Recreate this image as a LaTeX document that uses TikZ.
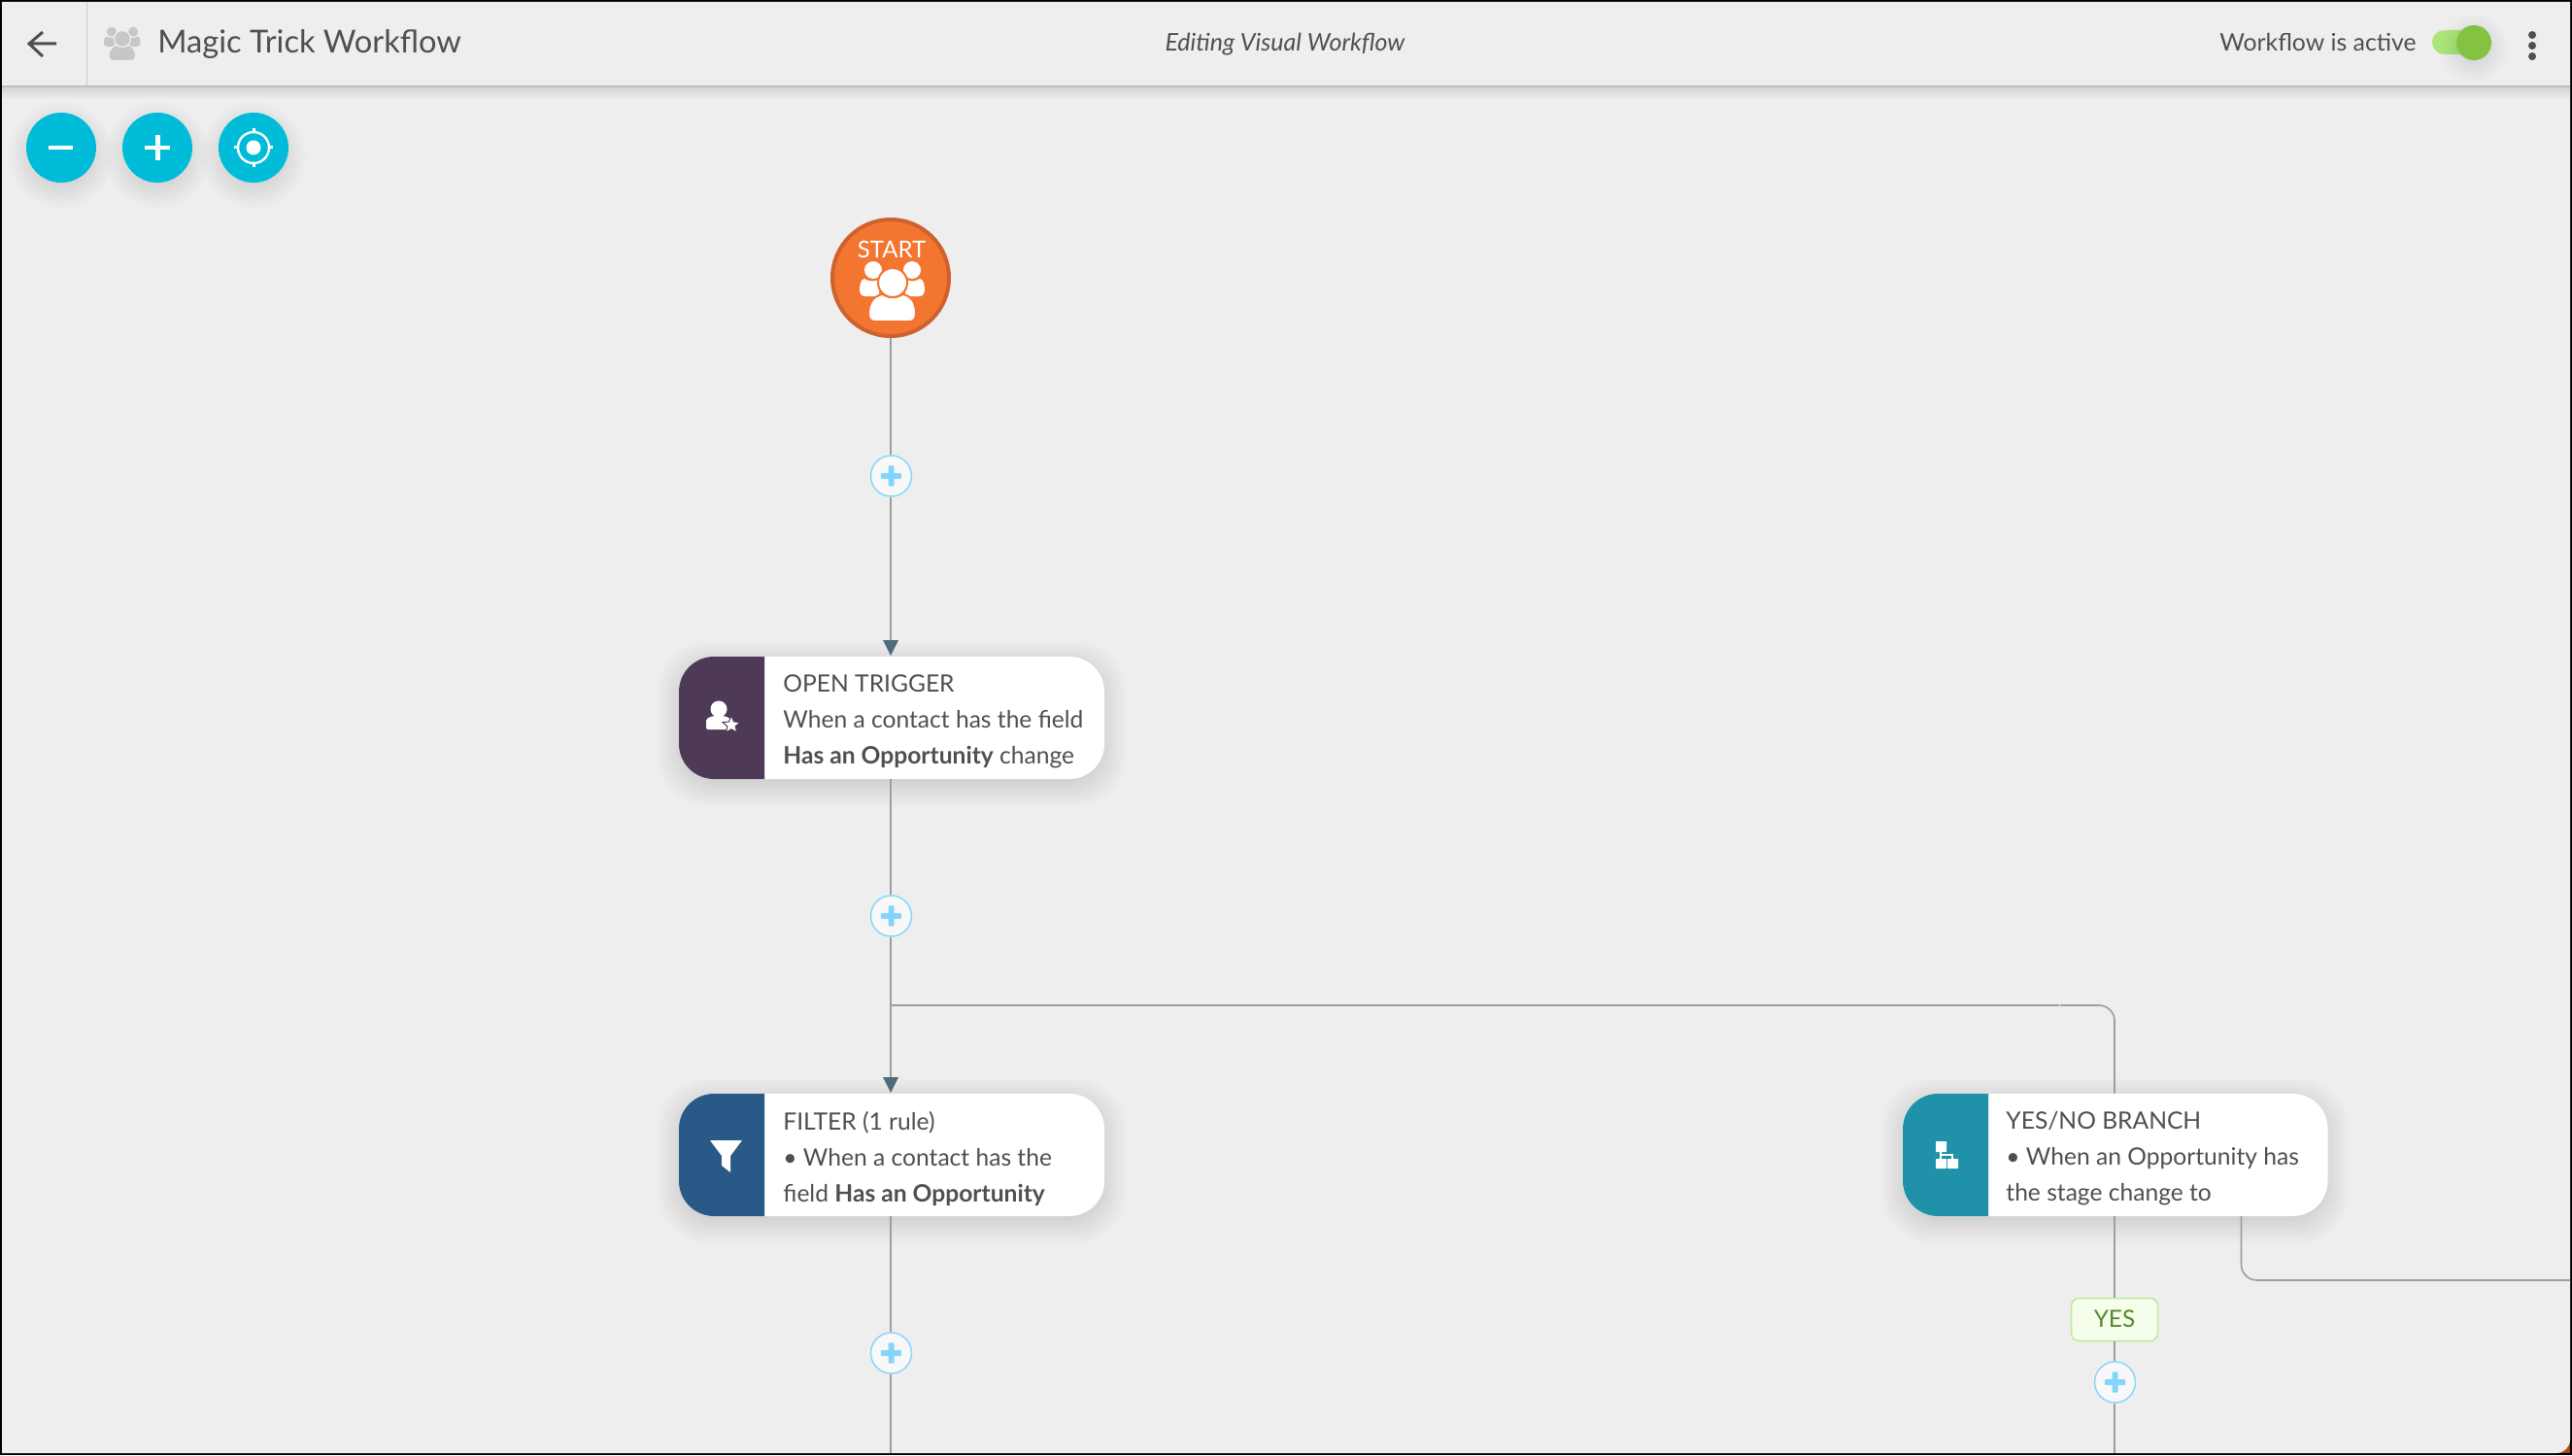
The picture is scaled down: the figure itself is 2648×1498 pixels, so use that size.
\documentclass[tikz,border=0pt]{standalone}
\usepackage{fontspec}
\setmainfont{Lato}
\definecolor{pagebg}{HTML}{EEEEEE}
\definecolor{ink}{HTML}{4F4F4F}
\definecolor{wire}{HTML}{9E9E9E}
\definecolor{zoomc}{HTML}{00BCD8}
\definecolor{plusc}{HTML}{84D5FB}
\definecolor{headc}{HTML}{4E6B7C}
\definecolor{startf}{HTML}{F27530}
\definecolor{startb}{HTML}{CE612F}
\definecolor{trigc}{HTML}{4E3A57}
\definecolor{filtc}{HTML}{285987}
\definecolor{branc}{HTML}{1F91A9}
\definecolor{yesf}{HTML}{F4FEEB}
\definecolor{yesb}{HTML}{BCEB96}
\definecolor{yest}{HTML}{558B2F}
\definecolor{trackc}{HTML}{AEE57A}
\definecolor{knobc}{HTML}{83C341}
\definecolor{cornerc}{HTML}{A8481A}
\definecolor{sepc}{HTML}{CDCDCD}
\tikzset{
  wireline/.style={draw=wire,line width=0.8pt},
  addnode/.style={circle,draw=plusc,fill=white!60!pagebg,line width=0.7pt,minimum size=21pt,inner sep=0pt,
    path picture={\fill[plusc,rounded corners=0.5pt] ([xshift=-5.3pt,yshift=-1.5pt]path picture bounding box.center) rectangle ([xshift=5.3pt,yshift=1.5pt]path picture bounding box.center);
      \fill[plusc,rounded corners=0.5pt] ([xshift=-1.5pt,yshift=-5.3pt]path picture bounding box.center) rectangle ([xshift=1.5pt,yshift=5.3pt]path picture bounding box.center);}},
  cardbox/.style={rectangle,rounded corners=18pt,fill=white,minimum width=219pt,minimum height=63pt,inner sep=0pt},
  cardtext/.style={anchor=north west,align=left,inner sep=0pt,text=ink,font=\fontsize{12.3}{18.6}\selectfont},
  zoombtn/.style={circle,fill=zoomc,minimum size=36pt,inner sep=0pt},
}
\newcommand{\softcircle}[3]{\foreach \k in {1,...,12}{\fill[black,opacity=0.009] (#1,#2+8) circle ({#3-8+\k*2.2});}}
\newcommand{\softcard}[4]{\foreach \k in {1,...,14}{\fill[black,opacity=0.006,rounded corners={18pt+\k*0.5pt}] (#1+6-\k*2,#2+12-\k*2) rectangle (#3-6+\k*2,#4+\k*2);}}
\newcommand{\crowd}[5]{%
\begin{scope}[shift={(#1,#2)},scale=#3]
  \fill[#4] (-34,-3) .. controls (-33,-12) and (-31,-13) .. (-29,-13) .. controls (-25,-10) and (-19,-10) .. (-14,-12) -- (-14,5) -- (-28,5) .. controls (-32,5) and (-34,3) .. (-34,-3) -- cycle;
  \fill[#4] (33,-3) .. controls (32,-12) and (30,-13) .. (28,-13) .. controls (24,-10) and (18,-10) .. (13,-12) -- (13,5) -- (27,5) .. controls (31,5) and (33,3) .. (33,-3) -- cycle;
  \fill[#4] (-20,-22) circle (9);
  \fill[#4] (20,-22) circle (9);
  \fill[#4,draw=#5,line width=#3*1pt] (-18,31) .. controls (-23,31) and (-25,28) .. (-25,23) .. controls (-25,10) and (-18,4) .. (-10,3) .. controls (-5,7) and (5,7) .. (10,3) .. controls (18,4) and (24,10) .. (24,23) .. controls (24,28) and (22,31) .. (17,31) -- cycle;
  \fill[#4,draw=#5,line width=#3*1pt] (0,-9) circle (15);
\end{scope}}
\begin{document}
\begin{tikzpicture}[x=0.5pt,y=-0.5pt]
\useasboundingbox (0,0) rectangle (2648,1498);
\fill[black] (0,0) rectangle (2648,1498);
\fill[cornerc] (2626,1476) rectangle (2646,1496);
\fill[pagebg] (2,2) -- (2646,2) [rounded corners=7pt] -- (2646,1496) [sharp corners] -- (2,1496) -- cycle;
% header shadow
\foreach \k in {1,...,10}{\fill[black,opacity=0.012] (2,88) rectangle (2646,88+\k*1.4);}
\fill[black,opacity=0.09] (2,88) rectangle (2646,90);
\draw[sepc,line width=0.5pt] (89,2) -- (89,88);
\draw[ink,line width=1.5pt] (44,33) -- (30,45) -- (44,58) (30,45) -- (58,45);
\crowd{126}{45}{0.56}{black!22}{pagebg}
\node[anchor=base west,inner sep=0pt,text=ink,font=\fontsize{16.3}{20}\selectfont] (title) at (162,54.5) {Magic Trick Workflow};
\node[anchor=base,inner sep=0pt,text=ink,font=\fontsize{12.5}{15}\selectfont\itshape] (mode) at (1323,52.5) {Editing Visual Workflow};
\node[anchor=base east,inner sep=0pt,text=ink,font=\fontsize{12.4}{15}\selectfont] (active) at (2488,53) {Workflow is active};
\fill[trackc,rounded corners=6.25pt] (2504,31) rectangle (2560,56);
\softcircle{2547}{42}{17}
\fill[knobc] (2547,44) circle (18);
\foreach \yy in {36,47,58}{\fill[ink] (2607,\yy) circle (4);}
% zoom buttons
\softcircle{63}{152}{36}\softcircle{162}{152}{36}\softcircle{261}{152}{36}
\node[zoombtn] (zoomout) at (63,152) {};
\node[zoombtn] (zoomin) at (162,152) {};
\node[zoombtn] (recenter) at (261,152) {};
\fill[white] (50,150) rectangle (75,154.5);
\fill[white] (149,150) rectangle (175,154.5);
\fill[white] (160,139) rectangle (164.5,165);
\draw[white,line width=1.2pt] (261,152) circle (16);
\fill[white] (261,152) circle (7.5);
\draw[white,line width=1.5pt] (261,132) -- (261,137) (261,167) -- (261,172) (241,152) -- (246,152) (276,152) -- (281,152);
% card shadows
\softcard{699}{676}{1137}{802}
\softcard{699}{1126}{1137}{1252}
\softcard{1959}{1126}{2396}{1252}
% nodes
\node[circle,fill=startf,draw=startb,line width=2pt,minimum size=60pt,inner sep=0pt] (start) at (917,286) {};
\node[anchor=base,inner sep=0pt,text=white,font=\fontsize{12}{14}\selectfont] (startlabel) at (918,265) {START};
\crowd{919}{300}{1}{white}{startf}
\node[cardbox] (trigger) at (918,739) {};
\node[cardbox] (filter) at (918,1189) {};
\node[cardbox] (branch) at (2177.5,1189) {};
\begin{scope}
  \clip (699,600) rectangle (787,1300);
  \fill[trigc,rounded corners=18pt] (699,676) rectangle (900,802);
  \fill[filtc,rounded corners=18pt] (699,1126) rectangle (900,1252);
\end{scope}
\begin{scope}
  \clip (1959,1100) rectangle (2047,1300);
  \fill[branc,rounded corners=18pt] (1959,1126) rectangle (2160,1252);
\end{scope}
\node[cardtext] (trigtext) at (806,694) {OPEN TRIGGER\\When a contact has the field\\\textbf{Has an Opportunity} change};
\node[cardtext] (filttext) at (806,1144) {FILTER (1 rule)\\\textbullet\ When a contact has the\\field \textbf{Has an Opportunity}};
\node[cardtext] (brantext) at (2065,1144) {YES/NO BRANCH\\\textbullet\ When an Opportunity has\\the stage change to};
% trigger icon
\fill[white] (740,730) circle (8.5);
\fill[white,rounded corners=1pt] (727,751) -- (727,744) .. controls (727,739) and (733,737) .. (740,737) .. controls (747,737) and (752,739) .. (753,744) -- (753,751) -- cycle;
\fill[white,draw=trigc,line width=0.5pt] (753,737) -- (755.6,743) -- (762,743.6) -- (757.2,747.8) -- (758.6,754) -- (753,750.8) -- (747.4,754) -- (748.8,747.8) -- (744,743.6) -- (750.4,743) -- cycle;
% filter icon
\fill[white,rounded corners=0.3pt] (731,1174) -- (764,1174) -- (752,1190) -- (752,1207) -- (743,1200) -- (743,1190) -- cycle;
% branch icon
\fill[white,rounded corners=0.3pt] (1993,1175) rectangle (2004,1186);
\fill[white,rounded corners=0.3pt] (1993,1193) rectangle (2004,1203);
\fill[white,rounded corners=0.3pt] (2005,1193) rectangle (2016,1203);
\draw[white,line width=0.6pt] (1998,1185) -- (1998,1193) (1998,1189) -- (2010,1189) -- (2010,1193);
% add markers and label
\node[addnode] (add1) at (917.5,490) {};
\node[addnode] (add2) at (917.5,943) {};
\node[addnode] (add3) at (917.5,1393) {};
\node[addnode] (add4) at (2177.5,1423) {};
\node[rectangle,rounded corners=4pt,fill=yesf,draw=yesb,line width=0.75pt,minimum width=44.5pt,minimum height=22pt,inner sep=0pt,text depth=1.2pt,text=yest,font=\fontsize{12.2}{14}\selectfont] (yes) at (2177,1358.5) {YES};
% connectors
\coordinate (splitpt) at (917,1035);
\coordinate (tickL) at (2119.5,1035);
\coordinate (tickR) at (2121,1035);
\coordinate (cornerA) at (2177,1035);
\coordinate (endmain) at (917,1496);
\coordinate (endyes) at (2177,1496);
\coordinate (noA) at (2307.5,1252);
\coordinate (noB) at (2307.5,1318);
\coordinate (noC) at (2646,1318);
\coordinate (tipA) at (917,659);
\coordinate (tipB) at (917,1109);
\draw[wireline] (start.south) -- (add1.north -| start.south);
\draw[wireline] (add1.south -| start.south) -- (tipA);
\fill[headc] (909,659) -- (925,659) -- (917,675) -- cycle;
\draw[wireline] (trigger.south -| tipA) -- (add2.north -| tipA);
\draw[wireline] (add2.south -| tipA) -- (tipB);
\fill[headc] (909,1109) -- (925,1109) -- (917,1125) -- cycle;
\draw[wireline] (filter.south -| tipA) -- (add3.north -| tipA);
\draw[wireline] (add3.south -| tipA) -- (endmain);
\draw[wireline] (splitpt) -- (tickL);
\draw[wireline,rounded corners=8pt] (tickR) -- (cornerA) -- (branch.north -| cornerA);
\draw[wireline] (branch.south -| cornerA) -- (yes.north -| cornerA);
\draw[wireline] (yes.south -| cornerA) -- (add4.north -| cornerA);
\draw[wireline] (add4.south -| cornerA) -- (endyes);
\draw[wireline,rounded corners=8pt] (noA) -- (noB) -- (noC);
\end{tikzpicture}
\end{document}
